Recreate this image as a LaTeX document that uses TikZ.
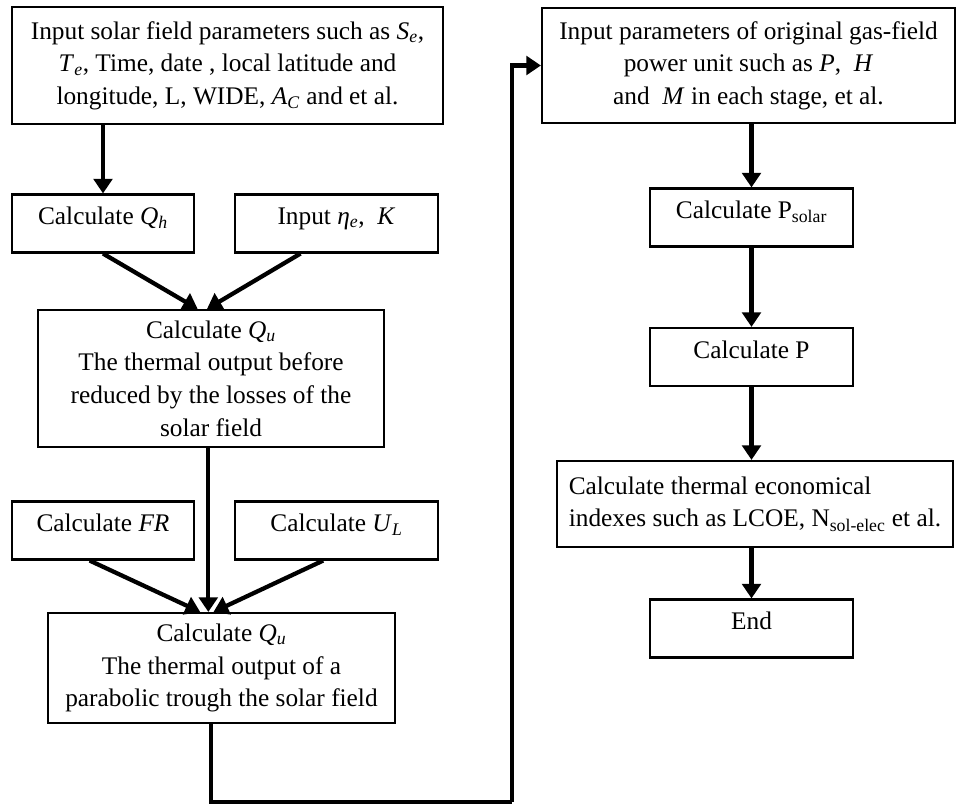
\documentclass[tikz,border=0pt]{standalone}
\usepackage{fontspec}
\setmainfont{Liberation Serif}
\usetikzlibrary{arrows.meta,positioning}
\newcommand{\vr}[2]{\textit{#1}\textsubscript{\textit{#2}}}
\newcommand{\sub}[2]{#1\textsubscript{#2}}

\begin{document}
\begin{tikzpicture}[
    x=0.75pt,y=-0.75pt,
    box/.style={rectangle,draw=black,line width=1.6pt,align=center,inner xsep=4pt,
      font=\fontsize{19}{24.5}\selectfont},
    calc/.style={box,inner ysep=0pt,text height=22.5pt,text depth=21pt},
    flow/.style={-{Triangle[length=11pt,width=14pt]},line width=3.2pt},
    link/.style={line width=3.2pt}
  ]
  \useasboundingbox (0,0) rectangle (960,806);
  % left column
  \node[box,minimum width=431*0.75pt,minimum height=117*0.75pt] (inputsolar) at (227.5,65.5) {%
    Input solar field parameters such as \vr{S}{e},\\
    \vr{T}{e}, Time, date , local latitude and\\
    longitude, L, WIDE, \vr{A}{C} and et al.};
  \node[calc,minimum width=182*0.75pt] (calcqh) at (103,223.5) {Calculate \vr{Q}{h}};
  \node[calc,minimum width=203*0.75pt] (inputeta) at (336.5,223.5) {Input \vr{η}{e}, \ \textit{K}};
  \node[box,minimum width=346*0.75pt,minimum height=137*0.75pt] (calcqu) at (211,378.5) {%
    Calculate \vr{Q}{u}\\
    The thermal output before\\
    reduced by the losses of the\\
    solar field};
  \node[calc,minimum width=182*0.75pt] (calcfr) at (103,530.5) {Calculate \textit{FR}};
  \node[calc,minimum width=203*0.75pt] (calcul) at (336.5,530.5) {Calculate \vr{U}{L}};
  \node[box,minimum width=347*0.75pt,minimum height=110*0.75pt] (calcqutrough) at (221.5,668) {%
    Calculate \vr{Q}{u}\\
    The thermal output of a\\
    parabolic trough the solar field};
  % right column
  \node[box,minimum width=413*0.75pt,minimum height=115*0.75pt] (inputgas) at (748.5,65.5) {%
    Input parameters of original gas-field\\
    power unit such as \textit{P}, \ \textit{H}\\
    and \ \textit{M} in each stage, et al.};
  \node[calc,minimum width=203*0.75pt] (psolar) at (751.5,217.5) {Calculate \sub{P}{solar}};
  \node[calc,minimum width=203*0.75pt] (calcp) at (751.5,357) {Calculate P};
  \node[box,align=left,minimum width=396*0.75pt,minimum height=86*0.75pt] (econ) at (755,504) {%
    Calculate thermal economical\\
    indexes such as LCOE, \sub{N}{sol-elec} et al.};
  \node[calc,minimum width=203*0.75pt] (endbox) at (751.5,628.5) {End};
  \coordinate (turn) at (512,802);

  % Flow
  \draw[flow] (calcqh.north |- inputsolar.south) -- (calcqh.north);
  \draw[flow] (calcqh.south) -- ([xshift=-10pt]calcqu.north);
  \draw[flow] ([xshift=-27pt]inputeta.south) -- ([xshift=-3pt]calcqu.north);
  \draw[flow] ([xshift=-2pt]calcqu.south) -- ([xshift=-2pt]calcqu.south |- calcqutrough.north);
  \draw[flow] ([xshift=-10pt]calcfr.south) -- ([xshift=-16pt]calcqutrough.north);
  \draw[flow] ([xshift=-10pt]calcul.south) -- ([xshift=-6pt]calcqutrough.north);
  \draw[link] ([xshift=-8pt]calcqutrough.south) |- (turn);
  \draw[flow] (turn) |- (inputgas.west);
  \draw[flow] (psolar.north |- inputgas.south) -- (psolar.north);
  \draw[flow] (psolar) -- (calcp);
  \draw[flow] (calcp) -- (econ.north -| calcp);
  \draw[flow] (econ.south -| endbox) -- (endbox);
\end{tikzpicture}
\end{document}
